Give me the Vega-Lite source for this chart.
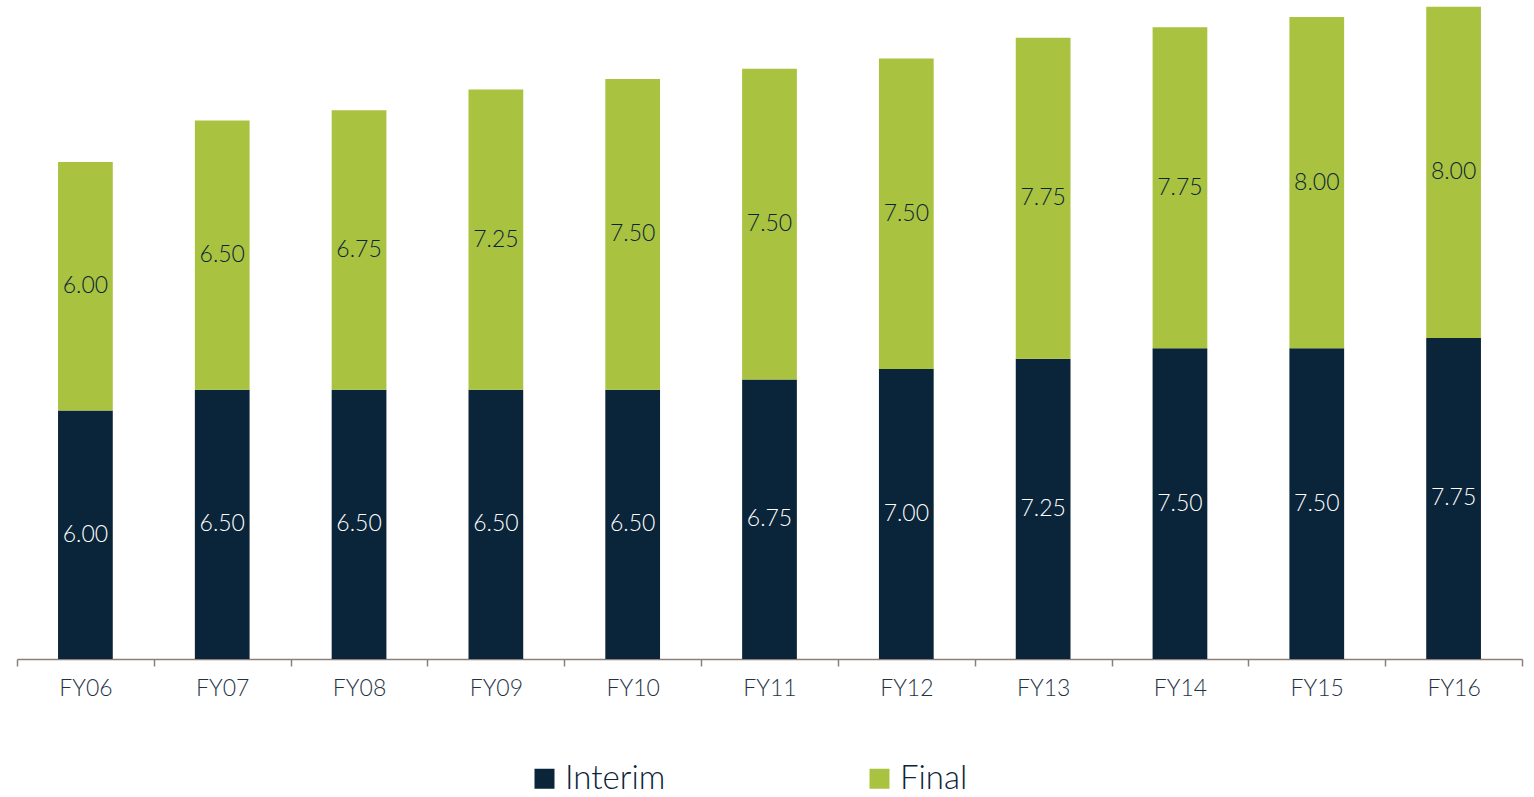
{
  "$schema": "https://vega.github.io/schema/vega-lite/v6.json",
  "width": 1505,
  "height": 659,
  "autosize": {"type": "none"},
  "padding": {"left": 17, "top": 0, "right": 12, "bottom": 138},
  "background": "#ffffff",
  "config": {
    "view": {"stroke": null},
    "font": "Lato"
  },
  "data": {
    "values": [
      {"fy": "FY06", "series": "Interim", "value": 6.00},
      {"fy": "FY07", "series": "Interim", "value": 6.50},
      {"fy": "FY08", "series": "Interim", "value": 6.50},
      {"fy": "FY09", "series": "Interim", "value": 6.50},
      {"fy": "FY10", "series": "Interim", "value": 6.50},
      {"fy": "FY11", "series": "Interim", "value": 6.75},
      {"fy": "FY12", "series": "Interim", "value": 7.00},
      {"fy": "FY13", "series": "Interim", "value": 7.25},
      {"fy": "FY14", "series": "Interim", "value": 7.50},
      {"fy": "FY15", "series": "Interim", "value": 7.50},
      {"fy": "FY16", "series": "Interim", "value": 7.75},
      {"fy": "FY06", "series": "Final", "value": 6.00},
      {"fy": "FY07", "series": "Final", "value": 6.50},
      {"fy": "FY08", "series": "Final", "value": 6.75},
      {"fy": "FY09", "series": "Final", "value": 7.25},
      {"fy": "FY10", "series": "Final", "value": 7.50},
      {"fy": "FY11", "series": "Final", "value": 7.50},
      {"fy": "FY12", "series": "Final", "value": 7.50},
      {"fy": "FY13", "series": "Final", "value": 7.75},
      {"fy": "FY14", "series": "Final", "value": 7.75},
      {"fy": "FY15", "series": "Final", "value": 8.00},
      {"fy": "FY16", "series": "Final", "value": 8.00}
    ]
  },
  "transform": [
    {"stack": "value", "groupby": ["fy"], "sort": [{"field": "series", "order": "descending"}], "as": ["v0", "v1"]},
    {"calculate": "(datum.v0 + datum.v1) / 2", "as": "mid"}
  ],
  "encoding": {
    "x": {
      "field": "fy",
      "type": "nominal",
      "sort": null,
      "scale": {"paddingInner": 0, "paddingOuter": 0},
      "axis": {
        "title": null,
        "labelAngle": 0,
        "labelFont": "Lato",
        "labelFontWeight": 300,
        "labelFontSize": 23,
        "labelColor": "#1f3345",
        "labelPadding": 11,
        "domainColor": "#8c7f79",
        "domainWidth": 1.5,
        "tickColor": "#8c7f79",
        "tickWidth": 1.5,
        "tickSize": 7,
        "tickBand": "extent"
      }
    }
  },
  "layer": [
    {
      "mark": {"type": "bar", "width": {"band": 0.4}},
      "encoding": {
        "y": {"field": "v0", "type": "quantitative", "scale": {"domain": [0, 15.91], "nice": false, "zero": true}, "axis": null},
        "y2": {"field": "v1"},
        "color": {
          "field": "series",
          "type": "nominal",
          "scale": {"domain": ["Interim", "Final"], "range": ["#0a2439", "#a9c23f"]},
          "legend": {
            "title": null,
            "orient": "none",
            "direction": "horizontal",
            "legendX": 511,
            "legendY": 762,
            "symbolType": "square",
            "symbolSize": 400,
            "symbolStrokeWidth": 0,
            "labelFont": "Lato",
            "labelFontWeight": 300,
            "labelFontSize": 33,
            "labelColor": "#0a2439",
            "labelOffset": 4,
            "columnPadding": 197,
            "labelLimit": 300
          }
        }
      }
    },
    {
      "mark": {"type": "text", "font": "Lato", "fontWeight": 300, "fontSize": 23, "baseline": "middle", "align": "center"},
      "encoding": {
        "y": {"field": "mid", "type": "quantitative"},
        "text": {"field": "value", "type": "quantitative", "format": ".2f"},
        "color": {
          "condition": {"test": "datum.series === 'Interim'", "value": "#ffffff"},
          "value": "#0a2439"
        }
      }
    }
  ]
}
